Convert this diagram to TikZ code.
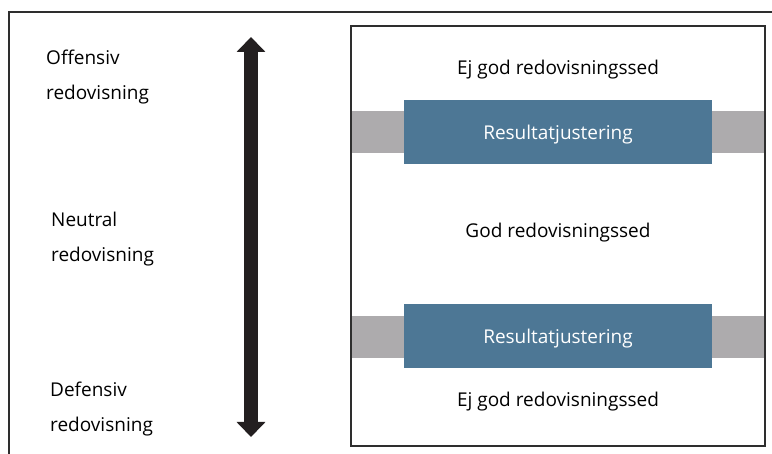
\documentclass[tikz,border=0pt]{standalone}
\usepackage{fontspec}
\setmainfont{Open Sans}
\usetikzlibrary{arrows.meta}
\definecolor{sedblue}{HTML}{4D7795}
\definecolor{sedgray}{HTML}{ADABAD}
\definecolor{framegray}{HTML}{2E2E2E}
\definecolor{arrowblack}{HTML}{231F20}
\begin{document}
\begin{tikzpicture}[x=1pt,y=-1pt,
    lbl/.style={anchor=north west,align=left,inner sep=0pt,font=\fontsize{19}{35}\selectfont},
    sed/.style={anchor=base,inner sep=0pt,font=\fontsize{19}{23}\selectfont},
    band/.style={fill=sedgray,draw=none,minimum width=413pt,minimum height=42pt,inner sep=0pt},
    adj/.style={fill=sedblue,text=white,minimum width=308pt,minimum height=64pt,inner sep=0pt,text depth=0pt,font=\fontsize{19}{23}\selectfont},
    rim/.style={framegray,line width=1.6pt}]
  \useasboundingbox (0,0) rectangle (772,454);
  \draw[rim] (9,454) -- (9,12) -- (772,12);
  % left scale
  \node[lbl] (offensiv) at (46,49.5) {Offensiv\\redovisning};
  \node[lbl] (neutral) at (51,211.5) {Neutral\\redovisning};
  \node[lbl] (defensiv) at (50,381.5) {Defensiv\\redovisning};
  \coordinate (up) at (251,37);
  \coordinate (down) at (251,437);
  \draw[arrowblack,line width=14pt,{Triangle[width=28pt,length=15pt]}-{Triangle[width=28pt,length=15pt]}] (up) -- (down);
  % right box
  \node[band] (band1) at (558.5,132) {};
  \node[band] (band2) at (558.5,337) {};
  \node[adj] (adj1) at (558,132) {Resultatjustering};
  \node[adj] (adj2) at (558,336) {Resultatjustering};
  \draw[rim] (351,26) rectangle (765,446);
  \node[sed] (ejgod1) at (558,75) {Ej god redovisningssed};
  \node[sed] (god) at (558,238) {God redovisningssed};
  \node[sed] (ejgod2) at (558,407) {Ej god redovisningssed};
\end{tikzpicture}
\end{document}
